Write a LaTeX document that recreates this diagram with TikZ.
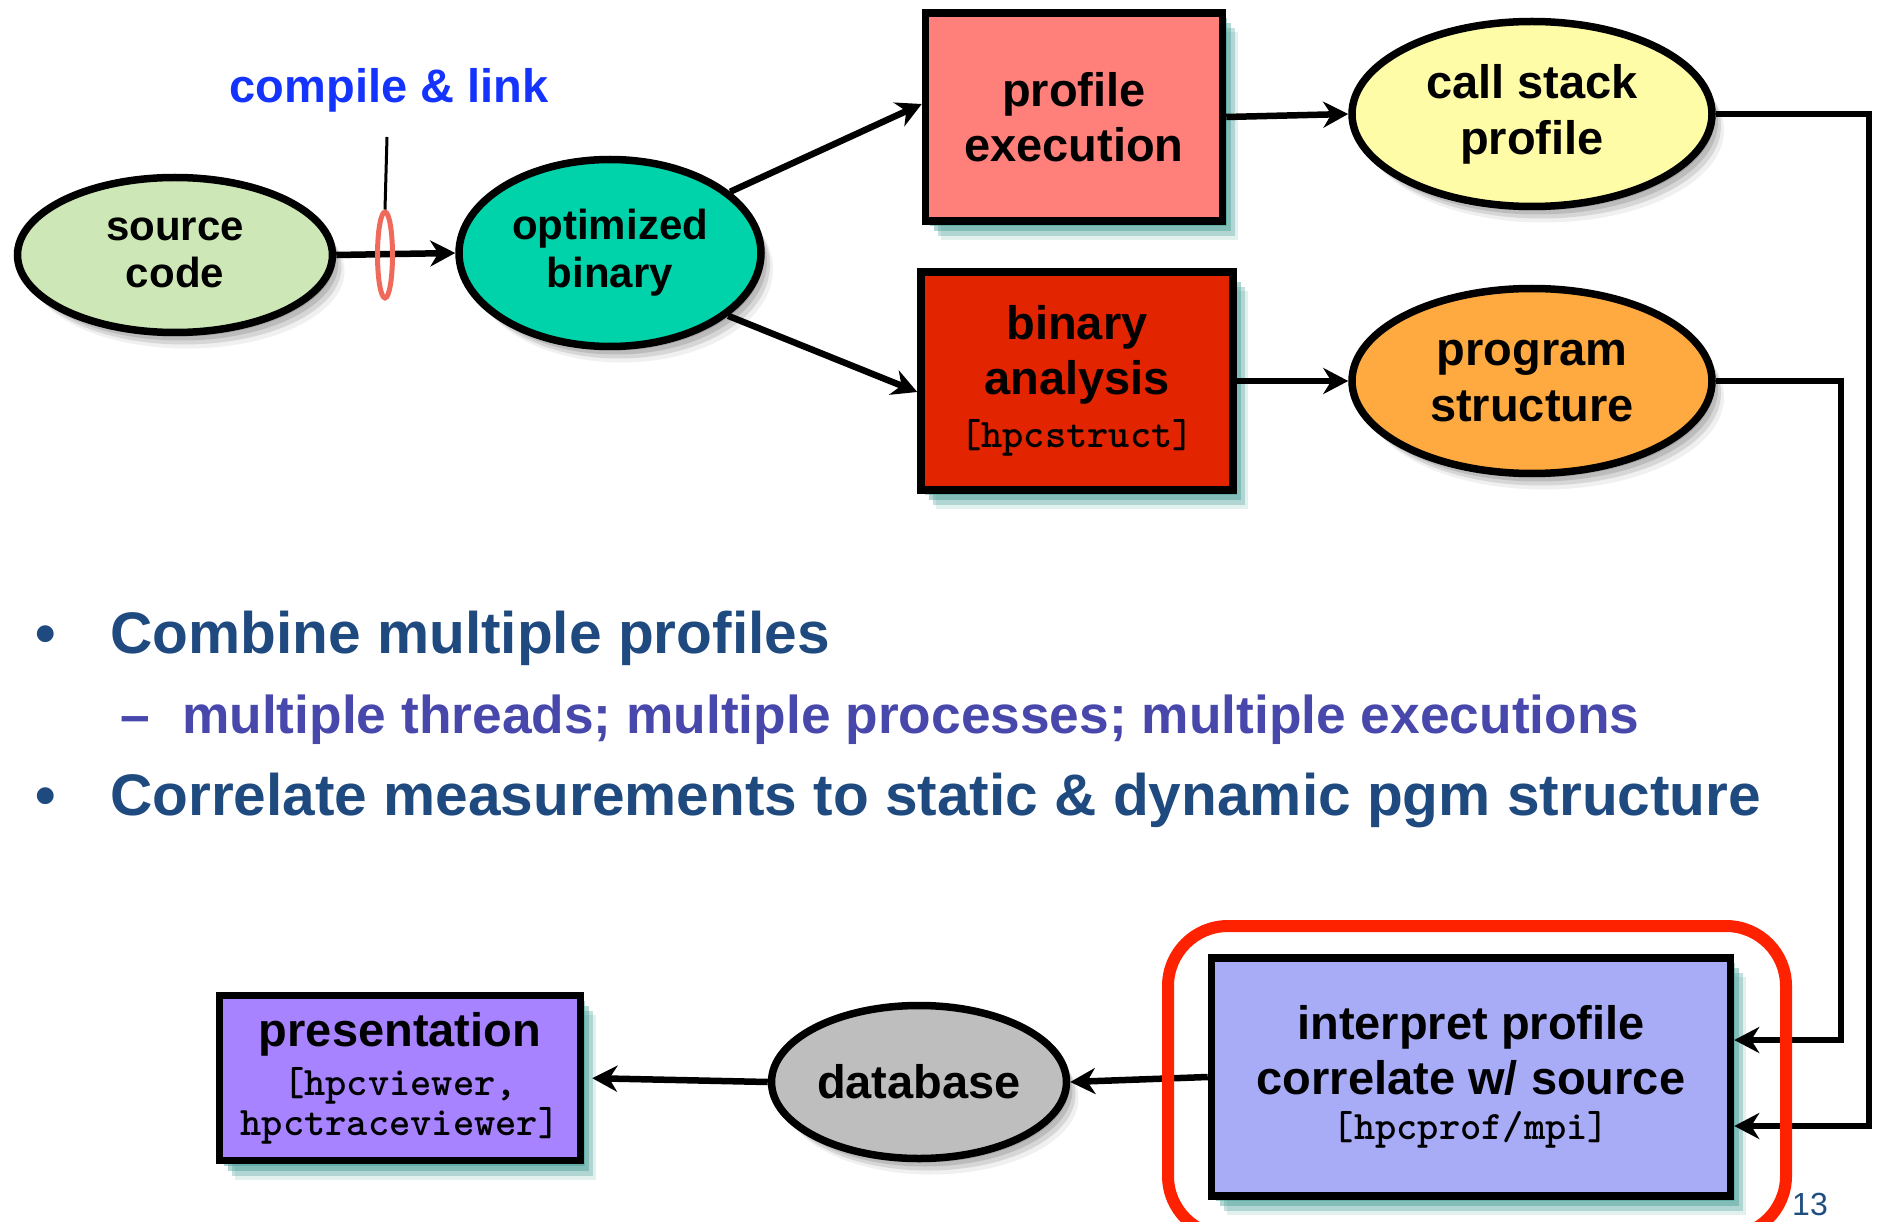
\documentclass[tikz,border=0pt]{standalone}
\usepackage{fontspec}
\setmainfont{Liberation Sans}
\newfontfamily\monob{lmmonolt10-bold.otf}
\usetikzlibrary{arrows.meta,shapes.geometric}
\definecolor{srcgreen}{HTML}{CDE8B6}
\definecolor{optteal}{HTML}{00D2AA}
\definecolor{pesalmon}{HTML}{FF7F7A}
\definecolor{csyellow}{HTML}{FFFCA8}
\definecolor{bared}{HTML}{E32400}
\definecolor{psorange}{HTML}{FFAA40}
\definecolor{ipblue}{HTML}{A8ACF7}
\definecolor{dbgray}{HTML}{BEBEBE}
\definecolor{prpurple}{HTML}{A883FF}
\definecolor{framered}{HTML}{FF2200}
\definecolor{ringred}{HTML}{F06A5C}
\definecolor{compblue}{HTML}{1433FF}
\definecolor{bulblue}{HTML}{1F4A7F}
\definecolor{subblue}{HTML}{4848AC}
\definecolor{numblue}{HTML}{1F4E80}
\definecolor{shteal}{HTML}{3E9B93}
\definecolor{shgray}{HTML}{707070}
\begin{document}
\begin{tikzpicture}[x=1pt,y=-1pt,
  boxshadow/.style={
    preaction={fill=shteal, fill opacity=0.45, draw=none, transform canvas={xshift=4pt,yshift=-5pt}},
    preaction={fill=shteal, fill opacity=0.4, draw=none, transform canvas={xshift=8pt,yshift=-10pt}},
    preaction={fill=shteal, fill opacity=0.3, draw=none, transform canvas={xshift=12pt,yshift=-15pt}},
    preaction={fill=shteal, fill opacity=0.15, draw=none, transform canvas={xshift=15pt,yshift=-19pt}}},
  ellshadow/.style={
    preaction={fill=shgray, fill opacity=0.3, draw=none, transform canvas={xshift=3pt,yshift=-4pt}},
    preaction={fill=shgray, fill opacity=0.25, draw=none, transform canvas={xshift=6pt,yshift=-8pt}},
    preaction={fill=shgray, fill opacity=0.2, draw=none, transform canvas={xshift=9pt,yshift=-12pt}},
    preaction={fill=shgray, fill opacity=0.1, draw=none, transform canvas={xshift=12pt,yshift=-16pt}}},
  boxnode/.style={rectangle, draw=black, line width=7.5pt, inner sep=0pt, align=center,
    font=\bfseries\fontsize{47}{55}\selectfont, boxshadow},
  ellnode/.style={ellipse, draw=black, line width=7.5pt, inner sep=0pt, align=center,
    font=\bfseries\fontsize{47}{56}\selectfont, ellshadow},
  conn/.style={line width=6.5pt, -{Stealth[length=25pt,width=26pt,inset=8pt]}},
  bultext/.style={anchor=base west, inner sep=0pt, font=\bfseries\fontsize{58.6}{58}\selectfont, text=bulblue},
  subtext/.style={anchor=base west, inner sep=0pt, font=\bfseries\fontsize{53.3}{53}\selectfont, text=subblue}
]
\useasboundingbox (0,0) rectangle (1879,1222);
\fill[white] (0,0) rectangle (1879,1222);

% nodes
\node[ellnode, fill=srcgreen, minimum width=315pt, minimum height=155pt,
  font=\bfseries\fontsize{42}{47}\selectfont] (src) at (175,255) {\raisebox{-4pt}{\begin{tabular}{@{}c@{}}source\\code\end{tabular}}};
\node[ellnode, fill=optteal, minimum width=302pt, minimum height=187pt,
  font=\bfseries\fontsize{42}{48}\selectfont] (opt) at (610,253) {optimized\\binary};
\node[boxnode, fill=pesalmon, minimum width=297pt, minimum height=208pt] (pe) at (1074,117) {profile\\execution};
\node[ellnode, fill=csyellow, minimum width=360pt, minimum height=185pt] (cs) at (1532,114) {call stack\\profile};
\node[boxnode, fill=bared, minimum width=312pt, minimum height=218pt] (ba) at (1077,381)
  {binary\\analysis\\[-2pt]{\monob\fontsize{40.5}{40}\selectfont [hpcstruct]}};
\node[ellnode, fill=psorange, minimum width=360pt, minimum height=185pt] (ps) at (1532,381) {program\\structure};
\node[boxnode, fill=ipblue, minimum width=519pt, minimum height=238pt] (ip) at (1471,1077)
  {interpret profile\\correlate w/ source\\[-10pt]{\monob\fontsize{40.5}{40}\selectfont [hpcprof/mpi]}};
\node[ellnode, fill=dbgray, minimum width=295pt, minimum height=153pt] (db) at (919,1082) {database};
\node[boxnode, fill=prpurple, minimum width=361pt, minimum height=165pt] (pr) at (400,1078)
  {presentation\\[-6pt]{\monob\fontsize{40.5}{40}\selectfont [hpcviewer,}\\[-15pt]{\monob\fontsize{40.5}{40}\selectfont hpctraceviewer]}};

% compile & link
\node[inner sep=0pt, anchor=base, font=\bfseries\fontsize{47}{47}\selectfont, text=compblue] (cl) at (389,103) {compile \& link};
\coordinate (tick) at (387,137);

% connectors
\draw[conn] (src.east) -- (opt.west);
\node[ellipse, draw=ringred, line width=5pt, minimum width=15pt, minimum height=86pt, inner sep=0pt] (ring) at (385,255) {};
\draw[line width=3pt] (tick) -- (ring.north);
\draw[conn] (opt.27) -- ([yshift=13pt]pe.west);
\draw[conn] (opt.-28) -- ([yshift=-11pt]ba.west);
\draw[conn] (pe.east) -- (cs.west);
\draw[conn] (ba.east) -- (ps.west);
\coordinate (c1) at (1869,1126);
\coordinate (c2) at (1841,1040);
\draw[conn] (cs.east) -| (c1) -- (ip.east |- c1);
\draw[conn] (ps.east) -| (c2) -- (ip.east |- c2);
\draw[conn] (ip.west) -- (db.east);
\draw[conn, shorten >=8pt] (db.west) -- (pr.east);

% red focus frame
\draw[framered, line width=12pt, rounded corners=60pt] (1168,926) rectangle (1786,1236);

% bullets
\node[bultext, anchor=base] (bu1) at (46,653) {•};
\node[bultext] (t1) at (110,653) {Combine multiple profiles};
\node[subtext, anchor=base] (da2) at (135,733) {–};
\node[subtext] (t2) at (182,733) {multiple threads; multiple processes; multiple executions};
\node[bultext, anchor=base] (bu3) at (46,815) {•};
\node[bultext] (t3) at (110,815) {Correlate measurements to static \& dynamic pgm structure};

\node[anchor=base west, inner sep=0pt, text=numblue, font=\fontsize{32}{32}\selectfont] (num) at (1792,1215) {13};
\end{tikzpicture}
\end{document}
